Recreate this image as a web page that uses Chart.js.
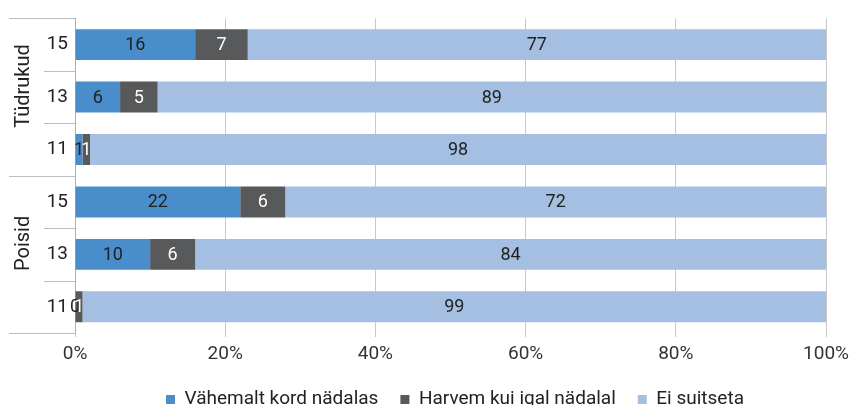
<!DOCTYPE html>
<html>
<head>
<meta charset="utf-8">
<script src="https://cdn.jsdelivr.net/npm/chart.js@4"></script>
<style>
  html, body { margin: 0; padding: 0; background: #fff; overflow: hidden; }
  #wrap { width: 859px; height: 405px; overflow: hidden; }
</style>
</head>
<body>
<div id="wrap"><canvas id="chart" width="859" height="419"></canvas></div>
<script>
"use strict";

const ages = ["15", "13", "11", "15", "13", "11"];
const groups = ["Tüdrukud", "Poisid"];
const weekly = [16, 6, 1, 22, 10, 0];
const rarely = [7, 5, 1, 6, 6, 1];
const never = [77, 89, 98, 72, 84, 99];
const seriesNames = ["Vähemalt kord nädalas", "Harvem kui igal nädalal", "Ei suitseta"];

const FONT = "Roboto, 'Liberation Sans', sans-serif";
const LEGEND_SHIFT = 42;

// value labels in the middle of each segment
const segmentLabels = {
  id: "segmentLabels",
  afterDatasetsDraw(chart) {
    const ctx = chart.ctx;
    ctx.save();
    ctx.font = "18px " + FONT;
    ctx.textAlign = "center";
    ctx.textBaseline = "middle";
    chart.data.datasets.forEach((ds, di) => {
      const meta = chart.getDatasetMeta(di);
      meta.data.forEach((bar, i) => {
        ctx.fillStyle = ds.labelColor;
        ctx.fillText(String(ds.data[i]), (bar.x + bar.base) / 2, bar.y + 1);
      });
    });
    ctx.restore();
  }
};

// second level of the category axis: group names and separator lines
const groupAxis = {
  id: "groupAxis",
  afterLayout(chart) {
    // legend sits a bit right of centre
    chart.legend.left += LEGEND_SHIFT;
    chart.legend.right += LEGEND_SHIFT;
  },
  afterDraw(chart) {
    const ctx = chart.ctx;
    const y = chart.scales.y;
    const area = chart.chartArea;
    const per = ages.length / groups.length;
    ctx.save();
    ctx.strokeStyle = "#BDBDBD";
    ctx.lineWidth = 1;
    for (let i = 0; i <= ages.length; i++) {
      let py;
      if (i === 0) py = area.top;
      else if (i === ages.length) py = area.bottom;
      else py = (y.getPixelForValue(i - 1) + y.getPixelForValue(i)) / 2;
      py = Math.round(py) + 0.5;
      const x0 = i % per === 0 ? 9 : 44;
      ctx.beginPath();
      ctx.moveTo(x0, py);
      ctx.lineTo(area.left, py);
      ctx.stroke();
    }
    ctx.fillStyle = "#222";
    ctx.font = "20px " + FONT;
    ctx.textAlign = "center";
    ctx.textBaseline = "middle";
    groups.forEach((g, gi) => {
      const first = y.getPixelForValue(gi * per);
      const last = y.getPixelForValue(gi * per + per - 1);
      ctx.save();
      ctx.translate(24, (first + last) / 2 - 11);
      ctx.rotate(-Math.PI / 2);
      ctx.fillText(g, 0, 0);
      ctx.restore();
    });
    ctx.restore();
  }
};

new Chart("chart", {
  type: "bar",
  data: {
    labels: ages,
    datasets: [
      { label: seriesNames[0], data: weekly, backgroundColor: "#4A8DCB", labelColor: "#222" },
      { label: seriesNames[1], data: rarely, backgroundColor: "#58595B", labelColor: "#fff" },
      { label: seriesNames[2], data: never, backgroundColor: "#A4BFE2", labelColor: "#222" }
    ].map(d => Object.assign(d, { borderWidth: 0, barPercentage: 0.59, categoryPercentage: 1 }))
  },
  options: {
    indexAxis: "y",
    responsive: false,
    animation: false,
    layout: { padding: { top: 15, right: 33, left: 0, bottom: 0 } },
    plugins: {
      tooltip: { enabled: false },
      legend: {
        position: "bottom",
        labels: {
          boxWidth: 9,
          boxHeight: 9,
          padding: 22,
          color: "#222",
          font: { size: 19, family: FONT }
        }
      }
    },
    scales: {
      x: {
        stacked: true,
        min: 0,
        max: 100,
        afterFit(s) { s.height = 35; },
        ticks: {
          stepSize: 20,
          padding: 6,
          color: "#333",
          font: { size: 19, family: FONT },
          callback: v => v + "%"
        },
        grid: { color: "#C8C8C8", tickLength: 4 },
        border: { display: false }
      },
      y: {
        stacked: true,
        afterFit(s) { s.width = 75; },
        ticks: { padding: 7, color: "#222", font: { size: 19, family: FONT } },
        grid: { display: false, drawTicks: false, tickLength: 0 },
        border: { color: "#AFAFAF" }
      }
    }
  },
  plugins: [segmentLabels, groupAxis]
});
</script>
</body>
</html>
